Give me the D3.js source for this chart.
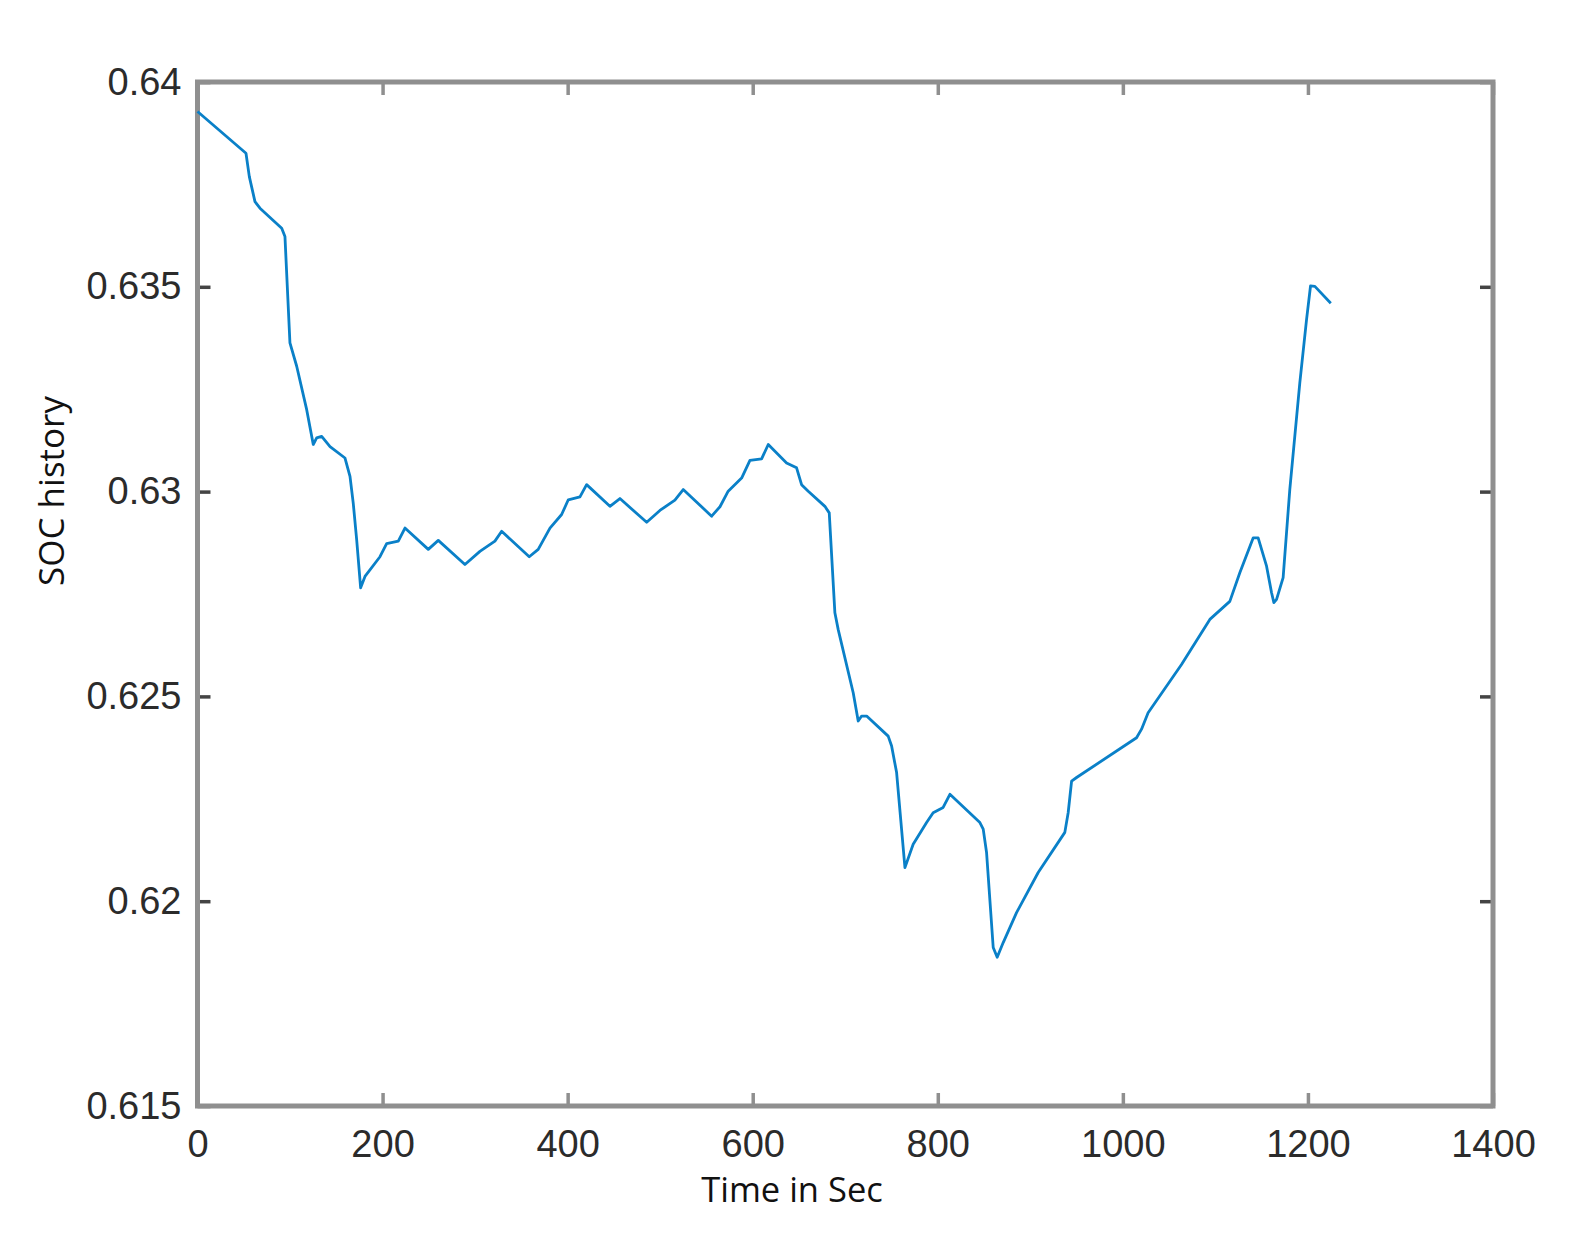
<!DOCTYPE html>
<html>
<head>
<meta charset="utf-8">
<script src="https://cdn.jsdelivr.net/npm/d3@7"></script>
<style>
    body { margin: 0; background: #fff; }
    svg { display: block; }
</style>
</head>
<body>
<svg id="chart"></svg>
<script>
// SOC history data
var timeSec = [0, 52.4, 56.0, 62.1, 67.5, 91.0, 94.5, 99.9, 107.2, 118.0, 125.1, 128.8, 134.2, 143.2, 159.4,
    164.8, 168.3, 172.0, 176.3, 181.0, 197.2, 204.4, 217.0, 224.2, 249.4, 260.2, 289.0, 305.2, 321.4, 328.7,
    358.5, 368.2, 380.9, 393.5, 400.7, 413.3, 420.5, 445.7, 456.5, 485.4, 499.7, 515.9, 524.9, 555.6, 564.6,
    573.5, 588.0, 597.0, 609.6, 616.8, 636.6, 647.4, 652.8, 660.0, 678.0, 682.7, 688.8, 692.4, 708.6, 714.0,
    717.7, 723.1, 746.4, 750.1, 755.5, 764.5, 773.4, 787.9, 795.0, 805.8, 813.1, 845.5, 849.1, 852.7, 859.9,
    864.2, 870.7, 885.1, 908.5, 937.3, 940.9, 944.6, 950.0, 1014.8, 1020.2, 1027.3, 1063.4, 1094.0, 1115.6,
    1126.4, 1140.8, 1146.2, 1155.3, 1160.7, 1163.2, 1166.1, 1173.2, 1180.4, 1191.2, 1198.5, 1202.8, 1207.5, 1224.7];

var socValues = [0.63928, 0.63826, 0.63769, 0.63708, 0.63692, 0.63643, 0.63623, 0.63363, 0.63306, 0.63200,
    0.63115, 0.63131, 0.63135, 0.63110, 0.63082, 0.63037, 0.62972, 0.62883, 0.62765, 0.62793, 0.62841,
    0.62873, 0.62879, 0.62911, 0.62859, 0.62881, 0.62822, 0.62854, 0.62879, 0.62903, 0.62841, 0.62859,
    0.62911, 0.62944, 0.62980, 0.62987, 0.63017, 0.62964, 0.62983, 0.62925, 0.62954, 0.62979, 0.63005,
    0.62940, 0.62963, 0.63001, 0.63033, 0.63076, 0.63080, 0.63115, 0.63070, 0.63058, 0.63017, 0.63001,
    0.62964, 0.62948, 0.62704, 0.62663, 0.62509, 0.62440, 0.62452, 0.62452, 0.62403, 0.62379, 0.62314,
    0.62082, 0.62139, 0.62192, 0.62216, 0.62229, 0.62261, 0.62192, 0.62176, 0.62119, 0.61887, 0.61863,
    0.61899, 0.61972, 0.62070, 0.62168, 0.62216, 0.62293, 0.62302, 0.62399, 0.62420, 0.62460, 0.62578,
    0.62688, 0.62732, 0.62802, 0.62887, 0.62887, 0.62818, 0.62753, 0.62729, 0.62737, 0.62790, 0.63005,
    0.63265, 0.63420, 0.63502, 0.63501, 0.63460];

var xTicks = [0, 200, 400, 600, 800, 1000, 1200, 1400];
var yTicks = [0.615, 0.62, 0.625, 0.63, 0.635, 0.64];

var width = 1571, height = 1248;
var plotLeft = 197.5, plotRight = 1493, plotTop = 82, plotBottom = 1106;
var axisColor = "#8f8f8f";

var mainSvg = d3.select("#chart").attr("width", width).attr("height", height);

var x = d3.scaleLinear().domain([0, 1400]).range([plotLeft, plotRight]);
var y = d3.scaleLinear().domain([0.615, 0.64]).range([plotBottom, plotTop]);

function StyleAxis(g, tickColor) {
    g.select(".domain").remove();
    g.selectAll(".tick line").attr("stroke", tickColor).attr("stroke-width", 3.5);
    g.selectAll(".tick text")
        .attr("fill", "#2b2b2b")
        .attr("font-family", "Liberation Sans, Arial, sans-serif")
        .attr("font-size", 38);
}

// bottom + top x ticks (inward)
mainSvg.append("g")
    .attr("transform", "translate(0," + plotBottom + ")")
    .call(d3.axisBottom(x).tickValues(xTicks).tickSize(-13).tickPadding(24).tickFormat(d3.format("d")))
    .call(StyleAxis, axisColor);

mainSvg.append("g")
    .attr("transform", "translate(0," + plotTop + ")")
    .call(d3.axisTop(x).tickValues(xTicks).tickSize(-13).tickFormat(""))
    .call(StyleAxis, axisColor);

// left + right y ticks (inward)
mainSvg.append("g")
    .attr("transform", "translate(" + plotLeft + ",0)")
    .call(d3.axisLeft(y).tickValues(yTicks).tickSize(-13).tickPadding(16).tickFormat(function(d) { return String(+d.toFixed(3)); }))
    .call(StyleAxis, "#444");

mainSvg.append("g")
    .attr("transform", "translate(" + plotRight + ",0)")
    .call(d3.axisRight(y).tickValues(yTicks).tickSize(-13).tickFormat(""))
    .call(StyleAxis, "#444");

// box
mainSvg.append("rect")
    .attr("x", plotLeft)
    .attr("y", plotTop)
    .attr("width", plotRight - plotLeft)
    .attr("height", plotBottom - plotTop)
    .attr("fill", "none")
    .attr("stroke", axisColor)
    .attr("stroke-width", 5);

var line = d3.line()
    .x(function(d, i) { return x(timeSec[i]); })
    .y(function(d) { return y(d); });

mainSvg.append("path")
    .datum(socValues)
    .attr("fill", "none")
    .attr("stroke", "#0a80c8")
    .attr("stroke-width", 2.8)
    .attr("stroke-linejoin", "round")
    .attr("d", line);

// axis labels
mainSvg.append("text")
    .text("Time in Sec")
    .attr("x", 792)
    .attr("y", 1202)
    .attr("text-anchor", "middle")
    .attr("font-family", "Open Sans, Noto Sans, sans-serif")
    .attr("font-size", 34.5)
    .attr("fill", "#111");

mainSvg.append("text")
    .text("SOC history")
    .attr("transform", "translate(64,491) rotate(-90)")
    .attr("text-anchor", "middle")
    .attr("font-family", "Open Sans, Noto Sans, sans-serif")
    .attr("font-size", 35)
    .attr("fill", "#111");
</script>
</body>
</html>
